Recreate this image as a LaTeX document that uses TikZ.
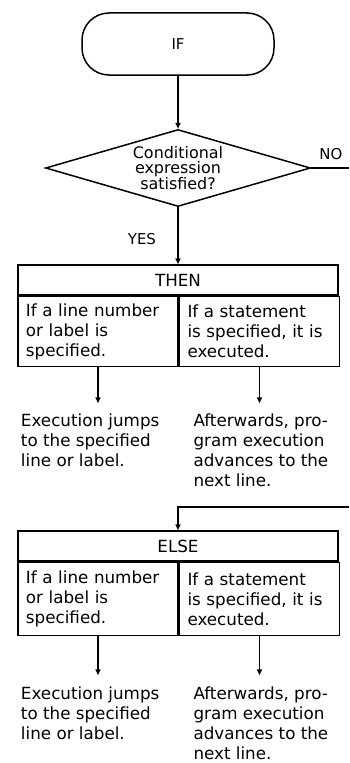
\documentclass[tikz,border=0pt]{standalone}
\usepackage{fontspec}
\setmainfont{DejaVu Sans}
\usetikzlibrary{positioning,shapes.geometric,arrows.meta}

\tikzset{
	every node/.style={font=\fontsize{16.8}{20}\selectfont},
	term/.style={draw, rounded corners=27bp, minimum width=192bp, minimum height=62bp, font=\fontsize{15}{17}\selectfont},
	decision/.style={draw, diamond, aspect=3.4, inner sep=0pt, minimum width=265bp, minimum height=77bp, align=center, font=\fontsize{16}{15.5}\selectfont},
	head/.style={draw, minimum width=320bp, minimum height=30bp, inner sep=0pt},
	cell/.style={draw, minimum width=160bp, minimum height=70bp, inner xsep=8bp, text width=144bp, align=left},
	note/.style={inner sep=0pt, align=left},
	tag/.style={font=\fontsize{15}{17}\selectfont},
	arr/.style={-{Triangle[length=6bp,width=5bp]}},
}

\begin{document}
\begin{tikzpicture}[x=1bp, y=-1bp, line width=1.5bp]
		\useasboundingbox (0,0) rectangle (349,763);
		
		% Define nodes
		\node[term]                           (if)   at (178,44) {IF};
		\node[decision, below=53bp of if]     (cond) {Conditional\\expression\\satisfied?};
		\node[tag, below left=22bp and 18bp of cond.south] (yes) {YES};
		\node[tag, above right=4bp and 4bp of cond.east]   (no)  {NO};
		
		% THEN branch
		\node[head, below=57bp of cond]       (then) {THEN};
		\node[cell, anchor=north west]        (thenl) at (then.south west) {If a line number\\or label is\\specified.};
		\node[cell, anchor=north west]        (thenr) at (thenl.north east) {If a statement\\is specified, it is\\executed.};
		\node[note, below=46bp of thenl.south west, anchor=north west, xshift=3bp]  (thenjump) {Execution jumps\\to the specified\\line or label.};
		\node[note, below=46bp of thenr.south west, anchor=north west, xshift=14bp] (thennext) {Afterwards, pro-\\gram execution\\advances to the\\next line.};
		
		% ELSE branch
		\coordinate (ret) at (349,507);
		\node[head]                           (elsehd) at (178,546) {ELSE};
		\node[cell, minimum height=73bp, anchor=north west] (elsel) at (elsehd.south west) {If a line number\\or label is\\specified.};
		\node[cell, minimum height=73bp, anchor=north west] (elser) at (elsel.north east) {If a statement\\is specified, it is\\executed.};
		\node[note, below=50bp of elsel.south west, anchor=north west, xshift=3bp]  (elsejump) {Execution jumps\\to the specified\\line or label.};
		\node[note, below=50bp of elser.south west, anchor=north west, xshift=14bp] (elsenext) {Afterwards, pro-\\gram execution\\advances to the\\next line.};
		
		% Connect the nodes
		\draw[arr] (if) -- (cond);
		\draw[arr] (cond) -- (then);
		\draw (cond.east) -- (cond.east -| ret);
		\draw[arr] (ret) -| (elsehd);
		\draw[arr, shorten >=10bp] (thenl) -- (thenl |- thenjump.north);
		\draw[arr, shorten >=10bp] (thenr) -- (thenr |- thennext.north);
		\draw[arr, shorten >=11bp] (elsel) -- (elsel |- elsejump.north);
		\draw[arr, shorten >=11bp] (elser) -- (elser |- elsenext.north);
		
\end{tikzpicture}
\end{document}
